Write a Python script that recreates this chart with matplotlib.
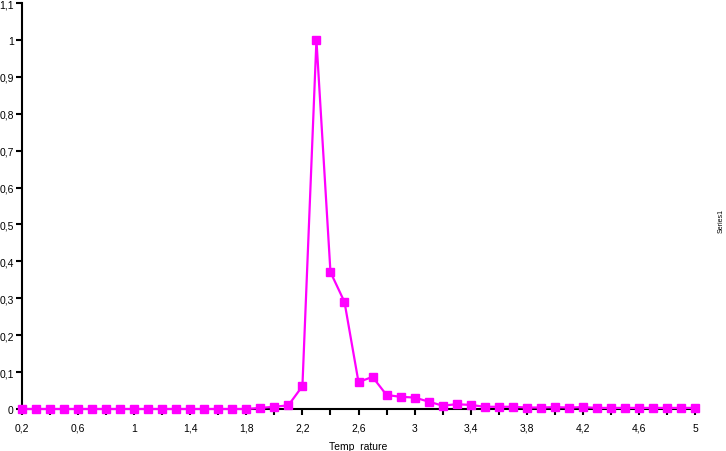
import numpy as np
import matplotlib.pyplot as plt
from matplotlib.ticker import FixedLocator, MultipleLocator, FuncFormatter

plt.rcParams["font.family"] = ["Liberation Sans", "DejaVu Sans"]

temp = [0.2, 0.3, 0.4, 0.5, 0.6, 0.7, 0.8, 0.9, 1.0, 1.1, 1.2, 1.3, 1.4, 1.5,
        1.6, 1.7, 1.8, 1.9, 2.0, 2.1, 2.2, 2.3, 2.4, 2.5, 2.6, 2.7, 2.8, 2.9,
        3.0, 3.1, 3.2, 3.3, 3.4, 3.5, 3.6, 3.7, 3.8, 3.9, 4.0, 4.1, 4.2, 4.3,
        4.4, 4.5, 4.6, 4.7, 4.8, 4.9, 5.0]
values = [0.0, 0.0, 0.0, 0.0, 0.0, 0.0, 0.0, 0.0, 0.0, 0.0, 0.0, 0.0, 0.0, 0.0,
          0.0, 0.0, 0.0, 0.003, 0.006, 0.01, 0.062, 1.0, 0.371, 0.29, 0.073,
          0.087, 0.038, 0.033, 0.031, 0.02, 0.009, 0.013, 0.011, 0.006, 0.006,
          0.006, 0.004, 0.004, 0.005, 0.004, 0.005, 0.003, 0.003, 0.003, 0.003,
          0.003, 0.003, 0.003, 0.003]
x_labels = [0.2, 0.6, 1.0, 1.4, 1.8, 2.2, 2.6, 3.0, 3.4, 3.8, 4.2, 4.6, 5.0]

fig = plt.figure(figsize=(7.26, 4.52), dpi=100)
ax = fig.add_axes([22 / 726, 42 / 452, 673 / 726, 406 / 452])

ax.plot(temp, values, color="#ff00ff", lw=1.6, marker="s", markersize=6,
        clip_on=False, zorder=3)

ax.set_xlim(0.2, 5)
ax.set_ylim(0, 1.1)

def comma(v, pos):
    s = ("%.1f" % v).rstrip("0").rstrip(".")
    return s.replace(".", ",")

ax.xaxis.set_major_locator(FixedLocator(x_labels))
ax.xaxis.set_minor_locator(FixedLocator(np.arange(0.4, 5.0, 0.4)))
ax.xaxis.set_major_formatter(FuncFormatter(comma))
ax.yaxis.set_major_locator(MultipleLocator(0.1))
ax.yaxis.set_major_formatter(FuncFormatter(comma))

for s in ["top", "right"]:
    ax.spines[s].set_visible(False)
for s in ["left", "bottom"]:
    ax.spines[s].set_linewidth(1.5)

ax.tick_params(axis="both", which="both", direction="out", width=1.5,
               labelsize=7.5)
ax.tick_params(axis="both", which="major", length=4)
ax.tick_params(axis="x", which="minor", length=4)
ax.tick_params(axis="x", pad=6)
ax.tick_params(axis="y", pad=2)

ax.set_xlabel("Temp  rature", fontsize=7.5, labelpad=6)
fig.text(0.993, 0.51, "Series1", rotation=90, fontsize=5, ha="center",
         va="center")

fig.savefig("out.png", dpi=100)
